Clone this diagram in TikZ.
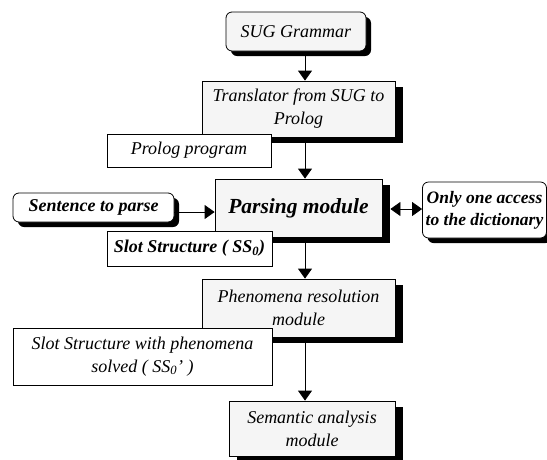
\documentclass[tikz,border=0pt]{standalone}
\usepackage{fontspec}
\setmainfont{Liberation Serif}
\usetikzlibrary{arrows.meta,shadows,calc}
\begin{document}
\begin{tikzpicture}[x=1pt,y=-1pt,
  box/.style={draw,line width=0.8pt,inner sep=0pt,align=center,
    font=\fontsize{18}{23}\selectfont\itshape},
  bf/.style={font=\fontsize{18}{22}\selectfont\bfseries\itshape},
  gbox/.style={box,fill=gray!8,
    drop shadow={shadow xshift=8pt,shadow yshift=-6pt,fill=black,opacity=1}},
  wbox/.style={box,fill=white},
  rbox/.style={box,fill=white,rounded corners=6pt,
    drop shadow={shadow xshift=5pt,shadow yshift=-5pt,fill=black,opacity=1}},
  arr/.style={-{Triangle[width=14pt,length=10pt]},line width=0.8pt},
  darr/.style={{Triangle[width=14pt,length=10pt]}-{Triangle[width=14pt,length=10pt]},line width=0.8pt},
]
\useasboundingbox (0,0) rectangle (547,459);
\coordinate (axis) at (305,0);
\coordinate (h1) at (0,212);
\coordinate (h2) at (0,209);

\node[rbox,fill=gray!8,minimum width=140pt,minimum height=39pt] (sug) at (296,31.5) {SUG Grammar};
\node[gbox,minimum width=193pt,minimum height=56pt] (trans) at (298.5,109) {Translator from SUG to\\Prolog};
\node[wbox,minimum width=164pt,minimum height=33pt] (prolog) at (189,150.5) {Prolog program};
\node[gbox,minimum width=167pt,minimum height=58pt,font=\fontsize{21.5}{26}\selectfont\bfseries\itshape] (pars) at (298.5,208) {Parsing module};
\node[rbox,bf,minimum width=161pt,minimum height=29pt] (sent) at (93.5,207.5) {Sentence to parse};
\node[wbox,bf,minimum width=165pt,minimum height=35pt] (ss) at (189.5,248.5) {Slot Structure ( SS\textsubscript{0})};
\node[rbox,bf,font=\fontsize{17.5}{22}\selectfont\bfseries\itshape,minimum width=124pt,minimum height=56pt] (dict) at (484.5,210) {Only one access\\to the dictionary};
\node[gbox,minimum width=193pt,minimum height=58pt] (phen) at (298.5,308) {Phenomena resolution\\module};
\node[wbox,minimum width=259pt,minimum height=57pt] (ss2) at (142.5,356.5) {Slot Structure with phenomena\\solved ( SS\textsubscript{0}’ )};
\node[gbox,minimum width=166pt,minimum height=55pt] (sem) at (312,428.5) {Semantic analysis\\module};

\draw[arr] ($(sug.south -| axis)+(0,5)$) -- (trans.north -| axis);
\draw[arr] ($(trans.south -| axis)+(0,6)$) -- (pars.north -| axis);
\draw[arr] (sent.east |- h1) -- (pars.west |- h1);
\draw[darr] ($(pars.east |- h2)+(8,0)$) -- (dict.west |- h2);
\draw[arr] ($(pars.south -| axis)+(0,6)$) -- (phen.north -| axis);
\draw[arr] ($(phen.south -| axis)+(0,6)$) -- (sem.north -| axis);
\end{tikzpicture}
\end{document}
